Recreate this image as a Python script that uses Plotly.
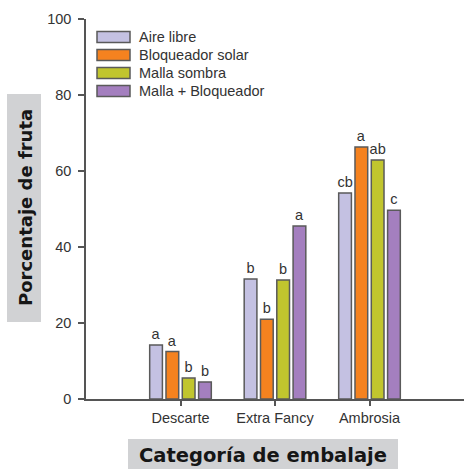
import plotly.graph_objects as go

categories = ["Descarte", "Extra Fancy", "Ambrosia"]
series_names = ["Aire libre", "Bloqueador solar", "Malla sombra", "Malla + Bloqueador"]
aire_libre = [14.2, 31.6, 54.2]
bloqueador_solar = [12.5, 21.0, 66.3]
malla_sombra = [5.5, 31.3, 62.9]
malla_bloqueador = [4.5, 45.5, 49.7]
letters_aire = ["a", "b", "cb"]
letters_bloq = ["a", "b", "a"]
letters_malla = ["b", "b", "ab"]
letters_mb = ["b", "a", "c"]
y_ticks = [0, 20, 40, 60, 80, 100]

values = [aire_libre, bloqueador_solar, malla_sombra, malla_bloqueador]
letters = [letters_aire, letters_bloq, letters_malla, letters_mb]
colors = ["#c4c1e2", "#f5821f", "#c1c52e", "#a47fbf"]

W, H = 464, 469
L, R, T, B = 86, 0, 19, 70
pw, ph = W - L - R, H - T - B

def px(x):
    return (x - L) / pw

def py(y):
    return (H - B - y) / ph

fig = go.Figure()
for name, vals, lab, col in zip(series_names, values, letters, colors):
    fig.add_trace(go.Bar(
        x=categories, y=vals, name=name, text=lab,
        textposition="outside", constraintext="none", cliponaxis=False,
        textfont=dict(family="Liberation Sans", size=14.5, color="#333333"),
        marker=dict(color=col, line=dict(color="#5a5a5a", width=1.5)),
        showlegend=False,
    ))

shapes = []
annotations = []
# manual legend with wide swatches
rows_y = [37, 55, 73, 91]
for name, col, ry in zip(series_names, colors, rows_y):
    shapes.append(dict(type="rect", xref="paper", yref="paper",
                       x0=px(97), x1=px(130), y0=py(ry + 5.5), y1=py(ry - 5.5),
                       fillcolor=col, line=dict(color="#5a5a5a", width=1.5)))
    annotations.append(dict(xref="paper", yref="paper", x=px(137), y=py(ry),
                            xanchor="left", yanchor="middle", showarrow=False,
                            text=name, font=dict(family="Liberation Sans", size=14.5, color="#333333")))

# axis title boxes
shapes.append(dict(type="rect", xref="paper", yref="paper", x0=px(7), x1=px(41),
                   y0=py(322), y1=py(94), fillcolor="#d1d2d4", line=dict(width=0), layer="below"))
shapes.append(dict(type="rect", xref="paper", yref="paper", x0=px(128), x1=px(398),
                   y0=py(469), y1=py(439), fillcolor="#d1d2d4", line=dict(width=0), layer="below"))
annotations.append(dict(xref="paper", yref="paper", x=px(25), y=py(208), textangle=-90,
                        xanchor="center", yanchor="middle", showarrow=False,
                        text="<b>Porcentaje de fruta</b>",
                        font=dict(family="DejaVu Sans", size=18, color="#161616")))
annotations.append(dict(xref="paper", yref="paper", x=px(263), y=py(456),
                        xanchor="center", yanchor="middle", showarrow=False,
                        text="<b>Categoría de embalaje</b>",
                        font=dict(family="DejaVu Sans", size=19.5, color="#161616")))

fig.update_layout(
    width=W, height=H,
    margin=dict(l=L, r=R, t=T, b=B),
    paper_bgcolor="white", plot_bgcolor="white",
    barmode="group", bargap=0.31, bargroupgap=0.22,
    shapes=shapes, annotations=annotations,
    xaxis=dict(type="category", range=[-1, 3], showline=True, linecolor="#555555", linewidth=1.5,
               ticks="outside", ticklen=5, tickcolor="#555555", tickwidth=1.5,
               tickfont=dict(family="Liberation Sans", size=14.5, color="#333333"),
               showgrid=False, zeroline=False),
    yaxis=dict(range=[0, 100], tickvals=y_ticks, showline=True, linecolor="#555555", linewidth=1.5,
               ticks="outside", ticklen=6, tickcolor="#555555", tickwidth=1.5,
               tickfont=dict(family="Liberation Sans", size=14.5, color="#333333"),
               showgrid=False, zeroline=False, ticklabelstandoff=4),
)

fig.write_html("out.html", config={"displayModeBar": False},
               post_script="document.body.style.margin='0';document.body.style.overflow='hidden';")
